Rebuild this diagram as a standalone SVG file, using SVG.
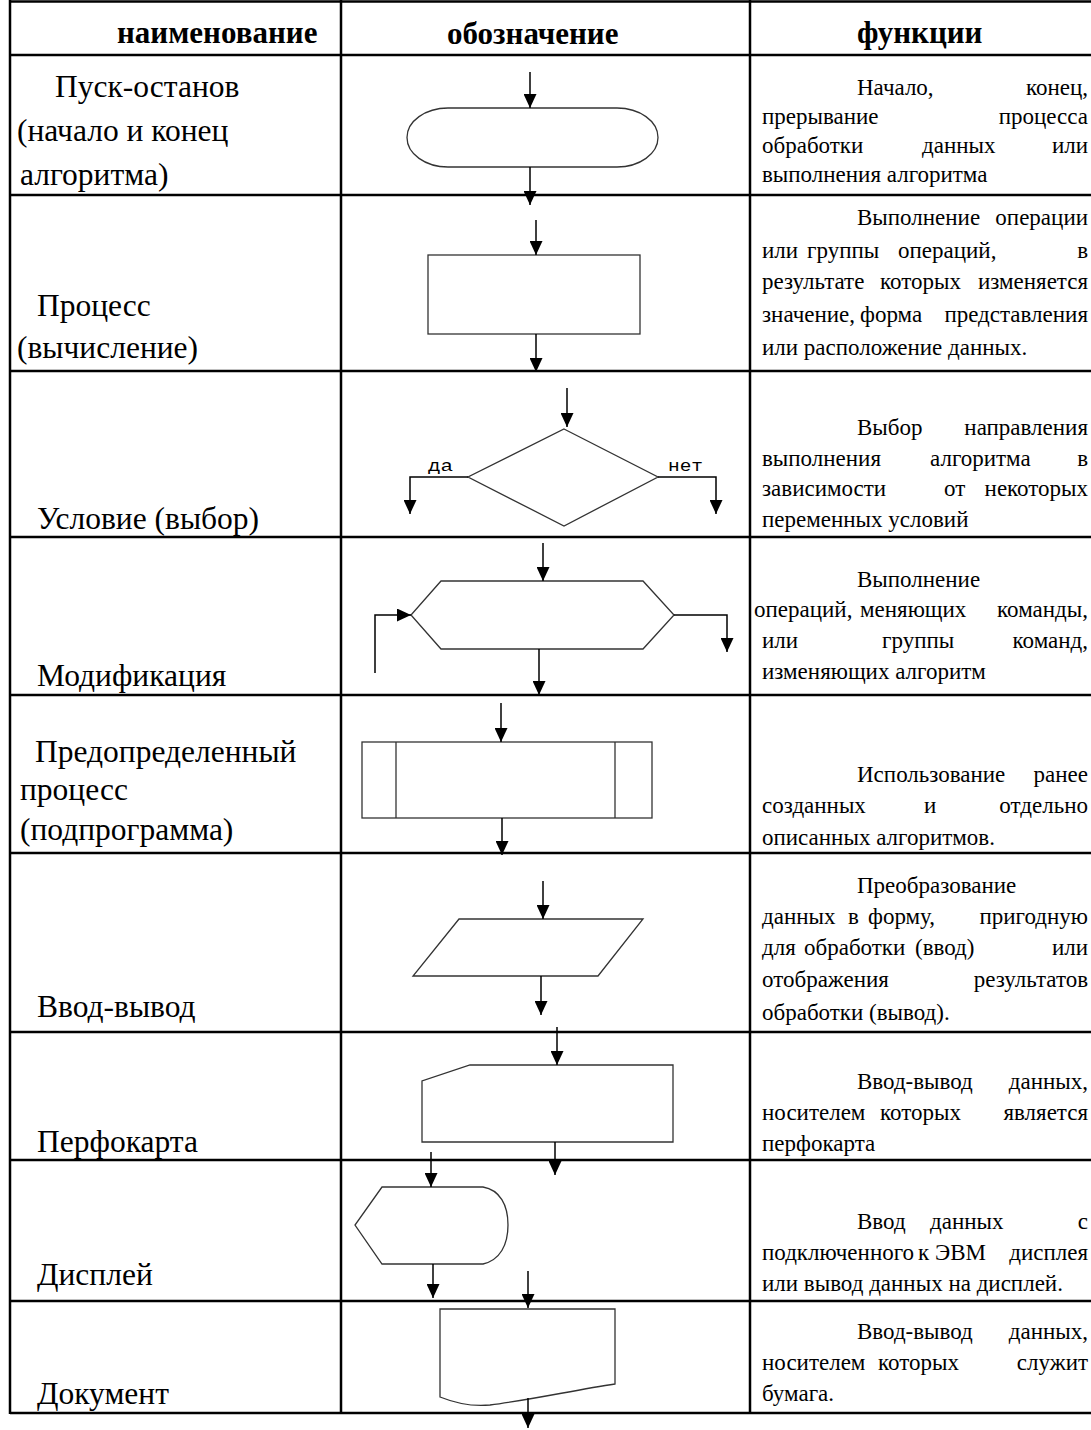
<svg xmlns="http://www.w3.org/2000/svg" width="1091" height="1430" viewBox="0 0 1091 1430">
  <style>
    .grid { stroke: #000; stroke-width: 2.5; fill: none; }
    .shape { stroke: #333; stroke-width: 1.3; fill: none; }
    .flow { stroke: #000; stroke-width: 1.5; fill: none; marker-end: url(#arrow); }
    .head { font-family: "Liberation Serif", serif; font-weight: bold; font-size: 31px; fill: #000; }
    .name { font-family: "Liberation Serif", serif; font-size: 31.5px; fill: #000; }
    .desc { font-family: "Liberation Serif", serif; font-size: 23px; fill: #000; }
    .tag { font-family: "Liberation Mono", monospace; font-size: 16px; fill: #000; }
    .end { text-anchor: end; }
  </style>
  <defs>
    <marker id="arrow" viewBox="0 -6.5 14 13" refX="14" refY="0" markerWidth="14" markerHeight="13" markerUnits="userSpaceOnUse" orient="auto">
      <path d="M0,-6.5 L14,0 L0,6.5 Z" fill="#000"/>
    </marker>
  </defs>
  <rect width="1091" height="1430" fill="#fff"/>

  <!-- table grid -->
  <g id="grid" class="grid">
    <line x1="10" y1="1.5" x2="1091" y2="1.5"/>
    <line x1="10" y1="55" x2="1091" y2="55"/>
    <line x1="10" y1="195" x2="1091" y2="195"/>
    <line x1="10" y1="371" x2="1091" y2="371"/>
    <line x1="10" y1="537" x2="1091" y2="537"/>
    <line x1="10" y1="695" x2="1091" y2="695"/>
    <line x1="10" y1="853" x2="1091" y2="853"/>
    <line x1="10" y1="1032" x2="1091" y2="1032"/>
    <line x1="10" y1="1160" x2="1091" y2="1160"/>
    <line x1="10" y1="1301" x2="1091" y2="1301"/>
    <line x1="10" y1="1413" x2="1091" y2="1413"/>
    <line x1="10" y1="0" x2="10" y2="1414"/>
    <line x1="341" y1="0" x2="341" y2="1414"/>
    <line x1="750" y1="0" x2="750" y2="1414"/>
  </g>

  <!-- column headers -->
  <g id="header">
    <text class="head" x="117" y="43">наименование</text>
    <text class="head" x="447" y="44">обозначение</text>
    <text class="head" x="857" y="43">функции</text>
  </g>

  <!-- flowchart symbols -->
  <g id="terminator">
    <path class="shape" d="M448,108 L617,108 A41,29.5 0 0 1 617,167 L448,167 A41,29.5 0 0 1 448,108 Z"/>
  </g>
  <g id="process">
    <rect class="shape" x="428" y="255" width="212" height="79"/>
  </g>
  <g id="decision">
    <polygon class="shape" points="564,429 658,477 564,526 468,477"/>
    <text class="tag" x="428" y="471" textLength="25" lengthAdjust="spacingAndGlyphs">да</text>
    <text class="tag" x="668" y="471" textLength="35" lengthAdjust="spacingAndGlyphs">нет</text>
  </g>
  <g id="modification">
    <polygon class="shape" points="441,581 643,581 674,615 643,649 441,649 411,615"/>
  </g>
  <g id="predefined">
    <rect class="shape" x="362" y="742" width="290" height="76"/>
    <line class="shape" x1="396" y1="742" x2="396" y2="818"/>
    <line class="shape" x1="615" y1="742" x2="615" y2="818"/>
  </g>
  <g id="io">
    <polygon class="shape" points="459,919 643,919 598,976 413,976"/>
  </g>
  <g id="card">
    <polygon class="shape" points="470,1065 673,1065 673,1142 422,1142 422,1081"/>
  </g>
  <g id="display">
    <path class="shape" d="M382,1187 L483,1187 C500,1190 508,1205 508,1225 C508,1245 500,1260 483,1264 L382,1264 L355,1225 Z"/>
  </g>
  <g id="document">
    <path class="shape" d="M440,1309 L615,1309 L615,1384 C575,1390 530,1400 490,1405 C470,1407 455,1403 440,1397 Z"/>
  </g>

  <!-- connectors -->
  <g id="connectors">
    <line class="flow" x1="530" y1="72" x2="530" y2="108"/>
    <line class="flow" x1="530" y1="167" x2="530" y2="205"/>
    <line class="flow" x1="536" y1="220" x2="536" y2="255"/>
    <line class="flow" x1="536" y1="334" x2="536" y2="372"/>
    <line class="flow" x1="567" y1="388" x2="567" y2="427"/>
    <polyline class="flow" points="468,477 410,477 410,514"/>
    <polyline class="flow" points="658,477 716,477 716,514"/>
    <line class="flow" x1="543" y1="543" x2="543" y2="581"/>
    <polyline class="flow" points="375,673 375,615 411,615"/>
    <polyline class="flow" points="674,615 727,615 727,652"/>
    <line class="flow" x1="539" y1="649" x2="539" y2="695"/>
    <line class="flow" x1="501" y1="703" x2="501" y2="742"/>
    <line class="flow" x1="502" y1="818" x2="502" y2="855"/>
    <line class="flow" x1="543" y1="881" x2="543" y2="919"/>
    <line class="flow" x1="541" y1="976" x2="541" y2="1015"/>
    <line class="flow" x1="557" y1="1027" x2="557" y2="1065"/>
    <line class="flow" x1="555" y1="1142" x2="555" y2="1175"/>
    <line class="flow" x1="431" y1="1152" x2="431" y2="1187"/>
    <line class="flow" x1="433" y1="1264" x2="433" y2="1298"/>
    <line class="flow" x1="528" y1="1271" x2="528" y2="1308"/>
    <line class="flow" x1="528" y1="1398" x2="528" y2="1428"/>
  </g>

  <!-- names -->
  <g id="names" class="name">
    <text x="55" y="97">Пуск-останов</text>
    <text x="17" y="141">(начало и конец</text>
    <text x="20" y="185">алгоритма)</text>
    <text x="37" y="316">Процесс</text>
    <text x="17" y="358">(вычисление)</text>
    <text x="37" y="529">Условие (выбор)</text>
    <text x="37" y="686">Модификация</text>
    <text x="35" y="762">Предопределенный</text>
    <text x="20" y="800">процесс</text>
    <text x="20" y="840">(подпрограмма)</text>
    <text x="37" y="1017">Ввод-вывод</text>
    <text x="37" y="1152">Перфокарта</text>
    <text x="37" y="1285">Дисплей</text>
    <text x="37" y="1404">Документ</text>
  </g>

  <!-- functions (justified by word placement) -->
  <g id="functions" class="desc">
    <text x="857" y="95">Начало,</text>
    <text class="end" x="1088" y="95">конец,</text>
    <text x="762" y="124">прерывание</text>
    <text class="end" x="1088" y="124">процесса</text>
    <text x="762" y="153">обработки</text>
    <text x="922" y="153">данных</text>
    <text class="end" x="1088" y="153">или</text>
    <text x="762" y="182">выполнения алгоритма</text>

    <text x="857" y="225">Выполнение</text>
    <text class="end" x="1088" y="225">операции</text>
    <text x="762" y="258">или</text>
    <text x="807" y="258">группы</text>
    <text x="898" y="258">операций,</text>
    <text class="end" x="1088" y="258">в</text>
    <text x="762" y="289">результате</text>
    <text x="880" y="289">которых</text>
    <text class="end" x="1088" y="289">изменяется</text>
    <text x="762" y="322">значение,</text>
    <text x="860" y="322">форма</text>
    <text class="end" x="1088" y="322">представления</text>
    <text x="762" y="355">или расположение данных.</text>

    <text x="857" y="435">Выбор</text>
    <text class="end" x="1088" y="435">направления</text>
    <text x="762" y="466">выполнения</text>
    <text x="930" y="466">алгоритма</text>
    <text class="end" x="1088" y="466">в</text>
    <text x="762" y="496">зависимости</text>
    <text x="944" y="496">от</text>
    <text class="end" x="1088" y="496">некоторых</text>
    <text x="762" y="527">переменных условий</text>

    <text x="857" y="587">Выполнение</text>
    <text x="754" y="617">операций,</text>
    <text x="860" y="617">меняющих</text>
    <text class="end" x="1088" y="617">команды,</text>
    <text x="762" y="648">или</text>
    <text x="882" y="648">группы</text>
    <text class="end" x="1088" y="648">команд,</text>
    <text x="762" y="679">изменяющих алгоритм</text>

    <text x="857" y="782">Использование</text>
    <text class="end" x="1088" y="782">ранее</text>
    <text x="762" y="813">созданных</text>
    <text x="924" y="813">и</text>
    <text class="end" x="1088" y="813">отдельно</text>
    <text x="762" y="845">описанных алгоритмов.</text>

    <text x="857" y="893">Преобразование</text>
    <text x="762" y="924">данных</text>
    <text x="848" y="924">в</text>
    <text x="868" y="924">форму,</text>
    <text class="end" x="1088" y="924">пригодную</text>
    <text x="762" y="955">для</text>
    <text x="804" y="955">обработки</text>
    <text x="915" y="955">(ввод)</text>
    <text class="end" x="1088" y="955">или</text>
    <text x="762" y="987">отображения</text>
    <text class="end" x="1088" y="987">результатов</text>
    <text x="762" y="1020">обработки (вывод).</text>

    <text x="857" y="1089">Ввод-вывод</text>
    <text class="end" x="1088" y="1089">данных,</text>
    <text x="762" y="1120">носителем</text>
    <text x="880" y="1120">которых</text>
    <text class="end" x="1088" y="1120">является</text>
    <text x="762" y="1151">перфокарта</text>

    <text x="857" y="1229">Ввод</text>
    <text x="930" y="1229">данных</text>
    <text class="end" x="1088" y="1229">с</text>
    <text x="762" y="1260">подключенного</text>
    <text x="918" y="1260">к</text>
    <text x="935" y="1260">ЭВМ</text>
    <text class="end" x="1088" y="1260">дисплея</text>
    <text x="762" y="1291">или вывод данных на дисплей.</text>

    <text x="857" y="1339">Ввод-вывод</text>
    <text class="end" x="1088" y="1339">данных,</text>
    <text x="762" y="1370">носителем</text>
    <text x="878" y="1370">которых</text>
    <text class="end" x="1088" y="1370">служит</text>
    <text x="762" y="1401">бумага.</text>
  </g>
</svg>
